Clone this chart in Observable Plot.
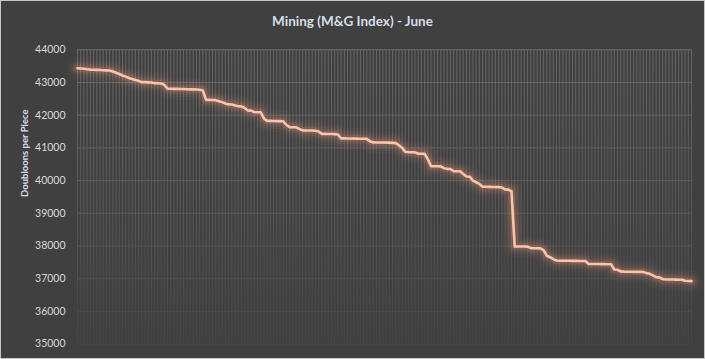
<!DOCTYPE html>
<html>
<head>
<meta charset="utf-8">
<script src="https://cdn.jsdelivr.net/npm/d3@7"></script>
<script src="https://cdn.jsdelivr.net/npm/@observablehq/plot@0.6"></script>
<style>
  html, body { margin: 0; padding: 0; background: #ffffff; }
  #chart {
    width: 705px; height: 359px; box-sizing: border-box;
    border: 1px solid #c8c8c8; background: #404040; overflow: hidden;
  }
  #title {
    height: 38px; line-height: 40px; text-align: center;
    font-family: Lato, "Open Sans", sans-serif; font-weight: bold; font-size: 13.5px;
    color: #d6dee8;
  }
  svg { display: block; }
</style>
</head>
<body>
<div id="chart">
  <div id="title">Mining (M&amp;G Index) - June</div>
</div>
<script>
// Index price (doubloons per piece) over the June periods
const prices = [
  43437, 43430, 43420, 43405, 43395, 43390, 43385, 43380, 43375, 43370,
  43367, 43340, 43300, 43260, 43215, 43180, 43140, 43110, 43080, 43050,
  43010, 43010, 43005, 43000, 42980, 42975, 42970, 42930, 42810, 42810,
  42805, 42805, 42800, 42800, 42795, 42790, 42790, 42785, 42780, 42755,
  42470, 42470, 42465, 42460, 42430, 42400, 42360, 42330, 42325, 42300,
  42275, 42270, 42220, 42145, 42140, 42095, 42090, 42090, 41900, 41825,
  41825, 41822, 41820, 41820, 41815, 41700, 41635, 41633, 41630, 41580,
  41535, 41532, 41530, 41530, 41525, 41500, 41430, 41428, 41425, 41425,
  41420, 41410, 41290, 41290, 41288, 41288, 41285, 41285, 41282, 41280,
  41275, 41200, 41168, 41166, 41165, 41165, 41162, 41160, 41155, 41145,
  41080, 41000, 40880, 40870, 40868, 40865, 40820, 40820, 40818, 40650,
  40440, 40440, 40438, 40435, 40380, 40360, 40355, 40290, 40288, 40285,
  40200, 40125, 40120, 40000, 39950, 39900, 39810, 39810, 39808, 39805,
  39805, 39800, 39790, 39728, 39725, 39676, 37990, 37985, 37985, 37983,
  37980, 37935, 37933, 37930, 37928, 37870, 37700, 37658, 37600, 37555,
  37550, 37550, 37548, 37548, 37545, 37545, 37543, 37540, 37540, 37452,
  37450, 37450, 37448, 37445, 37445, 37440, 37440, 37280, 37272, 37220,
  37215, 37214, 37212, 37210, 37210, 37208, 37205, 37170, 37150, 37100,
  37046, 37040, 36990, 36976, 36975, 36974, 36972, 36970, 36968, 36935,
  36930, 36925
];
const periods = prices.map((_, i) => i);
const yTicks = [35000, 36000, 37000, 38000, 39000, 40000, 41000, 42000, 43000, 44000];
const yLabel = "Doubloons per Piece";

const data = periods.map((p, i) => ({period: p, price: prices[i]}));

const W = 703, H = 319;
const glowLayers = [
  {w: 22, o: 0.04},
  {w: 16, o: 0.06},
  {w: 11, o: 0.09},
  {w: 7, o: 0.14}
];
const plot = Plot.plot({
  width: W,
  height: H,
  marginLeft: 76,
  marginRight: 13,
  marginTop: 10.3,
  marginBottom: 14.4,
  style: {background: "transparent", color: "#d9d9d9", fontFamily: "Lato, 'Open Sans', sans-serif", fontSize: "10.5px"},
  x: {domain: [periods[0], periods[periods.length - 1]], axis: null},
  y: {domain: [yTicks[0], yTicks[yTicks.length - 1]], ticks: yTicks, tickFormat: d => String(d), tickSize: 0, tickPadding: 12, label: null},
  marks: [
    Plot.ruleX(periods, {x: d => d, stroke: "url(#fadeV)", strokeWidth: 1}),
    Plot.ruleY(yTicks, {y: d => d, stroke: "url(#fadeH)", strokeWidth: 1}),
    ...glowLayers.map(g => Plot.line(data, {x: "period", y: "price", stroke: "#f29a7c", strokeWidth: g.w, strokeOpacity: g.o, strokeLinejoin: "round", strokeLinecap: "round"})),
    Plot.line(data, {x: "period", y: "price", stroke: "#fcc3ab", strokeWidth: 2.6, strokeLinejoin: "round"}),
    Plot.text([yLabel], {frameAnchor: "left", rotate: -90, dx: -53, text: d => d, fill: "#d6dee8", fontWeight: "bold", fontSize: 9.5})
  ]
});

// gradients for the fading gridlines
const ns = "http://www.w3.org/2000/svg";
const defs = document.createElementNS(ns, "defs");
const yTop = 10.3, yBot = H - 14.4;
defs.innerHTML = `
  <linearGradient id="fadeV" gradientUnits="userSpaceOnUse" x1="0" y1="${yTop}" x2="0" y2="${yBot}">
    <stop offset="0" stop-color="#666666"/>
    <stop offset="0.55" stop-color="#575757"/>
    <stop offset="1" stop-color="#444444"/>
  </linearGradient>
  <linearGradient id="fadeH" gradientUnits="userSpaceOnUse" x1="0" y1="${yTop}" x2="0" y2="${yBot}">
    <stop offset="0" stop-color="#6a6a6a"/>
    <stop offset="0.55" stop-color="#595959"/>
    <stop offset="1" stop-color="#454545"/>
  </linearGradient>`;
plot.insertBefore(defs, plot.firstChild);

document.getElementById("chart").appendChild(plot);
</script>
</body>
</html>
